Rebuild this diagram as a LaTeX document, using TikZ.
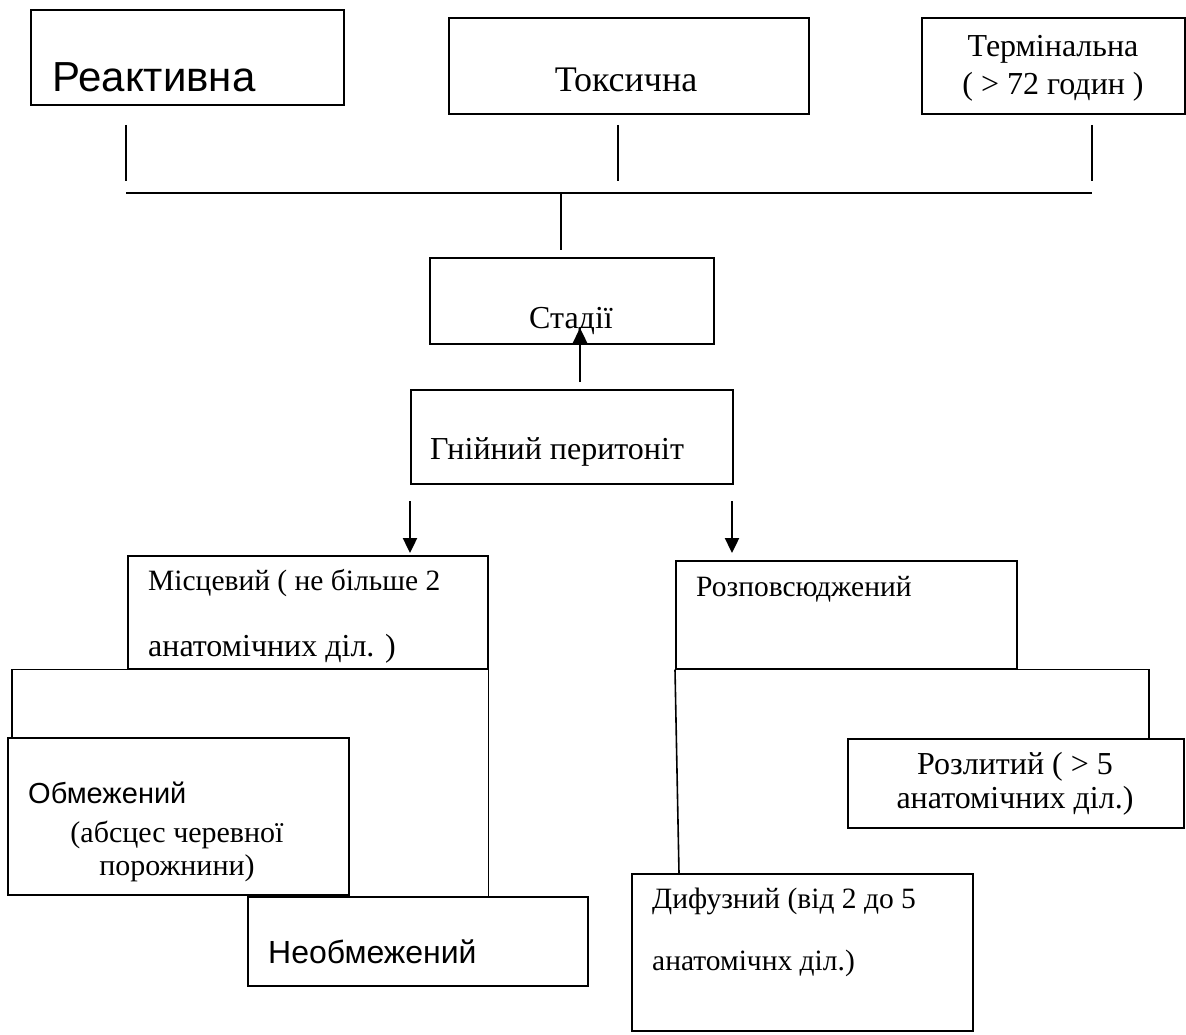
\documentclass[tikz,border=0pt]{standalone}
\usepackage{fontspec}
\setmainfont{Liberation Serif}
\setsansfont{Liberation Sans}
\usetikzlibrary{arrows.meta}

\begin{document}
\begin{tikzpicture}[x=1pt,y=-1pt,
    box/.style={draw, line width=1.6pt, inner sep=0pt, anchor=north west},
    lbl/.style={font=\fontsize{32}{38}\selectfont, inner sep=0pt, anchor=base west},
    clbl/.style={lbl, anchor=base},
    slbl/.style={font=\sffamily\fontsize{29}{34}\selectfont, inner sep=0pt, anchor=base west},
    small/.style={font=\fontsize{29.5}{34}\selectfont},
    link/.style={line width=1.6pt},
    arr/.style={line width=2.4pt, -{Triangle[width=14pt,length=15pt]}}]

    \useasboundingbox (0,0) rectangle (1186,1035);

    % stages
    \node[box, minimum width=313pt, minimum height=95pt] (reakt) at (30,9) {};
    \node[box, minimum width=360pt, minimum height=96pt] (toks) at (448,17) {};
    \node[box, minimum width=263pt, minimum height=96pt] (term) at (921,17) {};
    \node[slbl, font=\sffamily\fontsize{42}{48}\selectfont] (treakt) at (52,92) {Реактивна};
    \node[clbl, font=\fontsize{36}{40}\selectfont] (ttoks) at (626,92) {Токсична};
    \node[clbl] (tterm1) at (1053,57) {Термінальна};
    \node[clbl] (tterm2) at (1053,95) {( > 72 годин )};

    \coordinate (ra) at (126,125);  \coordinate (rb) at (126,181);
    \coordinate (ta) at (618,125);  \coordinate (tb) at (618,181);
    \coordinate (ea) at (1092,125); \coordinate (eb) at (1092,181);
    \coordinate (hl) at (126,193);  \coordinate (hr) at (1092,193);
    \coordinate (hm) at (561,193);  \coordinate (hd) at (561,250);
    \draw[link] (ra) -- (rb);
    \draw[link] (ta) -- (tb);
    \draw[link] (ea) -- (eb);
    \draw[link] (hl) -- (hr);
    \draw[link] (hm) -- (hd);

    \node[box, minimum width=284pt, minimum height=86pt] (stad) at (429,257) {};
    \node[clbl] (tstad) at (571,328) {Стадії};

    \node[box, minimum width=322pt, minimum height=94pt] (gniy) at (410,389) {};
    \node[lbl] (tgniy) at (430,459) {Гнійний перитоніт};

    \coordinate (ua) at (580,382); \coordinate (ub) at (580,328);
    \draw[arr] (ua) -- (ub);

    % forms
    \node[box, minimum width=360pt, minimum height=113pt] (misc) at (127,555) {};
    \node[lbl, small] (tmisc1) at (148,590) {Місцевий ( не більше 2};
    \node[lbl] (tmisc2) at (148,656) {анатомічних діл. )};

    \node[box, minimum width=341pt, minimum height=108pt] (rozp) at (675,560) {};
    \node[lbl, small] (trozp) at (696,596) {Розповсюджений};

    \coordinate (la) at (410,501); \coordinate (lb) at (410,553);
    \coordinate (rc) at (732,501); \coordinate (rd) at (732,553);
    \draw[arr] (la) -- (lb);
    \draw[arr] (rc) -- (rd);

    \node[box, minimum width=341pt, minimum height=157pt] (obm) at (7,737) {};
    \node[slbl] (tobm) at (28,803) {Обмежений};
    \node[clbl, font=\fontsize{30}{34}\selectfont] (tobm1) at (177,842) {(абсцес черевної};
    \node[clbl, font=\fontsize{30}{34}\selectfont] (tobm2) at (177,875) {порожнини)};

    \node[box, minimum width=340pt, minimum height=89pt] (neob) at (247,896) {};
    \node[slbl, font=\sffamily\fontsize{32}{36}\selectfont] (tneob) at (268,963) {Необмежений};

    \node[box, minimum width=336pt, minimum height=89pt] (rozl) at (847,738) {};
    \node[clbl] (trozl1) at (1015,774) {Розлитий ( > 5};
    \node[clbl] (trozl2) at (1015,808) {анатомічних діл.)};

    \node[box, minimum width=341pt, minimum height=157pt] (dyf) at (631,873) {};
    \node[lbl, small] (tdyf1) at (652,908) {Дифузний (від 2 до 5};
    \node[lbl, small] (tdyf2) at (652,970) {анатомічнх діл.)};

    \draw[link] (misc.south west) -| ([xshift=5pt]obm.north west);
    \draw[link] (misc.south east) -- (misc.south east |- neob.north);
    \draw[link] (rozp.south west) -- ([xshift=48pt]dyf.north west);
    \draw[link] (rozp.south east) -| ([xshift=302pt]rozl.north west);
\end{tikzpicture}
\end{document}
